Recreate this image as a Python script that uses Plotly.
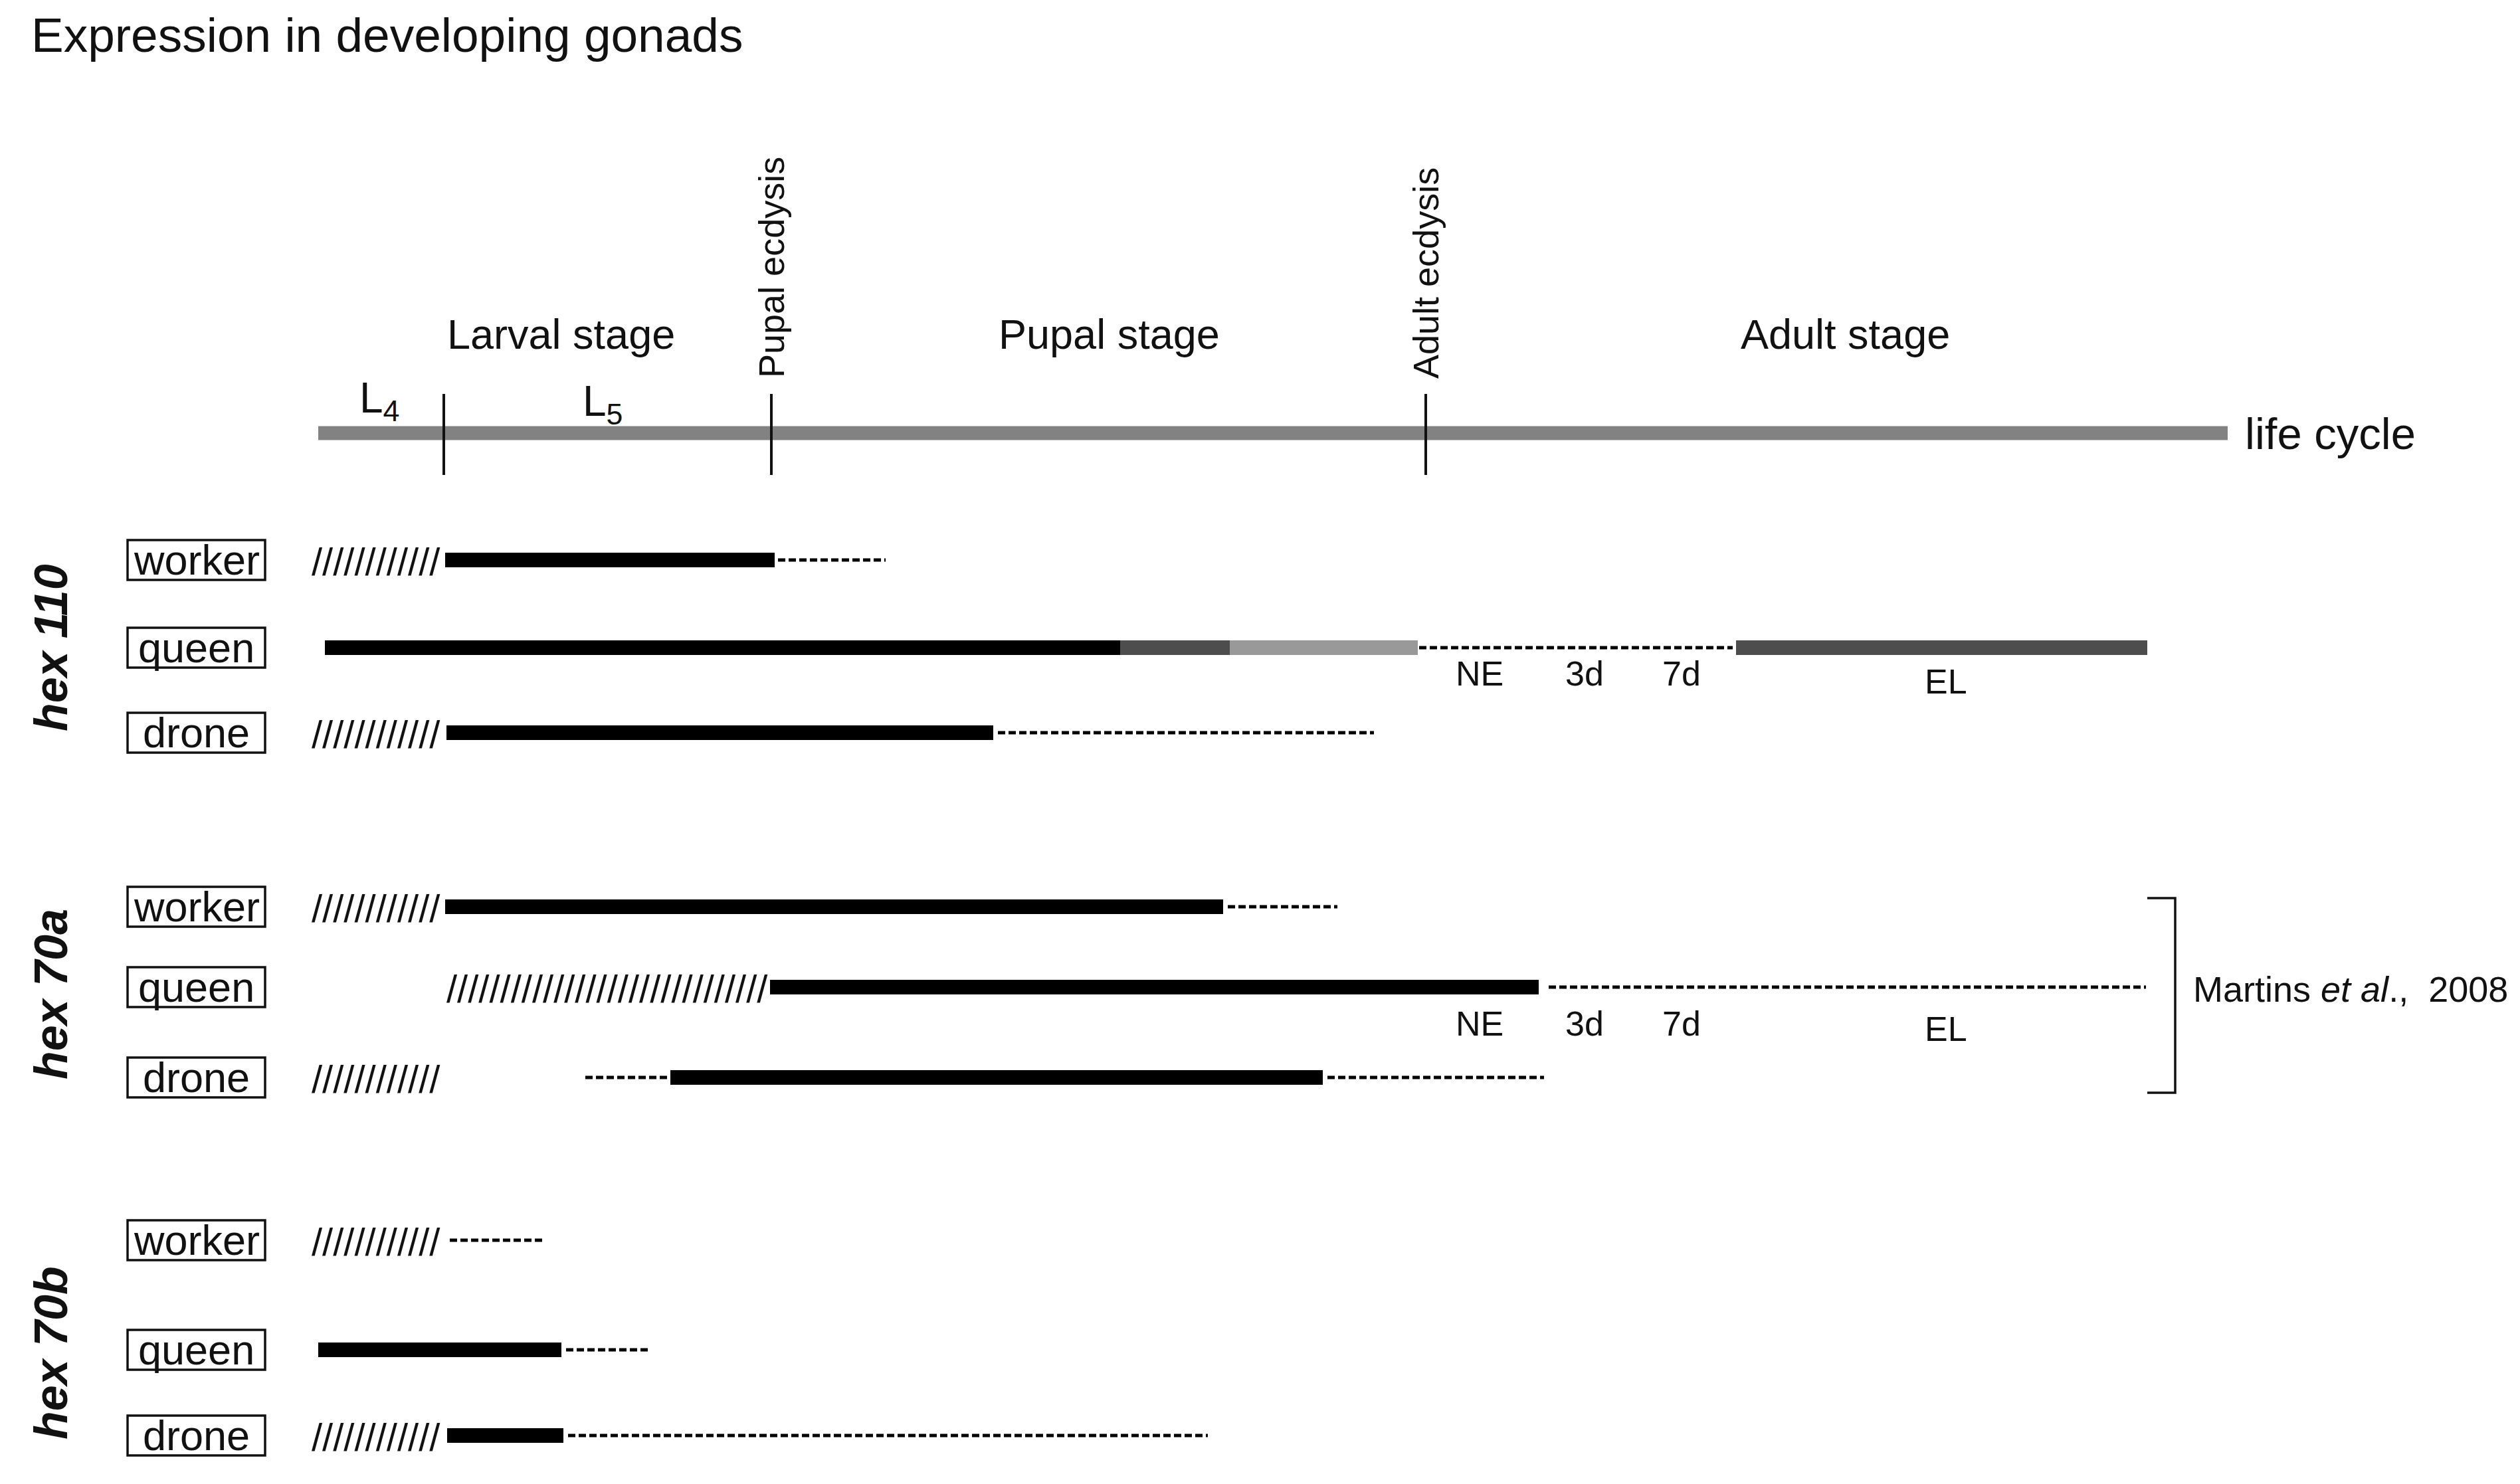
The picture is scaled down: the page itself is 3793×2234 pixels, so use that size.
import plotly.graph_objects as go

# figure size (px); data units below are positions on the drawing canvas
W, H = 3793, 2234
PAGE_MARGIN = 8  # browser body margin, compensated through the axis ranges

# life cycle axis
lifecycle_span = [479, 3353]
lifecycle_y = 652
event_x = [668, 1161, 2146]          # L4/L5 moult, pupal ecdysis, adult ecdysis
event_labels = ["", "Pupal ecdysis", "Adult ecdysis"]
event_label_y = [0, 403, 411]
stage_names = ["Larval stage", "Pupal stage", "Adult stage"]
stage_x = [844, 1669, 2777]
instar_names = ["L<sub>4</sub>", "L<sub>5</sub>"]
instar_x = [571, 907]
instar_y = [603, 608]

# rows
genes = ["hex 110", "hex 70a", "hex 70b"]
gene_y = [975, 1497, 2037]
castes = ["worker", "queen", "drone"]
row_y = {
    "hex 110": [843, 975, 1103],
    "hex 70a": [1365, 1486, 1622],
    "hex 70b": [1867, 2032, 2161],
}

# segments per row: (kind, start, end)
segments = {
    ("hex 110", "worker"): [("hatch", 467, 658), ("solid", 670, 1166), ("dash", 1171, 1333)],
    ("hex 110", "queen"): [("solid", 489, 1686), ("dark", 1686, 1851), ("light", 1851, 2134),
                           ("dash", 2136, 2608), ("dark", 2613, 3232)],
    ("hex 110", "drone"): [("hatch", 467, 658), ("solid", 672, 1495), ("dash", 1502, 2068)],
    ("hex 70a", "worker"): [("hatch", 467, 658), ("solid", 670, 1841), ("dash", 1848, 2013)],
    ("hex 70a", "queen"): [("hatch", 670, 1154), ("solid", 1159, 2316), ("dash", 2331, 3230)],
    ("hex 70a", "drone"): [("hatch", 467, 658), ("dash", 881, 1006), ("solid", 1009, 1991),
                           ("dash", 1998, 2324)],
    ("hex 70b", "worker"): [("hatch", 467, 658), ("dash", 677, 818)],
    ("hex 70b", "queen"): [("solid", 479, 845), ("dash", 852, 976)],
    ("hex 70b", "drone"): [("hatch", 467, 658), ("solid", 673, 848), ("dash", 855, 1818)],
}

# adult sub-stage labels under the queen rows
adult_marks = ["NE", "3d", "7d", "EL"]
adult_marks_x = [2227, 2385, 2531, 2929]
adult_marks_y = {
    "hex 110": [1014, 1014, 1014, 1026],
    "hex 70a": [1541, 1541, 1541, 1549],
}

bracket_x = [3232, 3274]
citation = "Martins <i>et al</i>.,\u00a0 2008"

colors = {"solid": "#000000", "dark": "#4d4d4d", "light": "#999999", "dash": "#000000"}
FONT = "Liberation Sans, Arial, sans-serif"
INK = "#111111"

fig = go.Figure()
annotations = []


def text(x, y, s, size, xanchor="center", yanchor="middle", angle=0, **font):
    annotations.append(dict(x=x, y=y, text=s, showarrow=False, xanchor=xanchor,
                            yanchor=yanchor, textangle=angle,
                            font=dict(family=FONT, size=size, color=INK, **font)))


def seg(x0, x1, y, color, width, dash="solid"):
    fig.add_trace(go.Scatter(x=[x0, x1], y=[y, y], mode="lines", hoverinfo="skip",
                             line=dict(color=color, width=width, dash=dash)))


# title
text(45, 52, "Expression in developing gonads", 73, xanchor="left")

# life cycle bar, event ticks and stage labels
seg(lifecycle_span[0], lifecycle_span[1], lifecycle_y, "#828282", 21)
text(lifecycle_span[1] + 24, lifecycle_y, "life cycle", 67, xanchor="left")
for ex, lab, ly in zip(event_x, event_labels, event_label_y):
    fig.add_trace(go.Scatter(x=[ex, ex], y=[lifecycle_y - 59, lifecycle_y + 63], mode="lines",
                             hoverinfo="skip", line=dict(color=INK, width=4)))
    if lab:
        text(ex, ly, lab, 54, angle=-90)
for name, sx in zip(stage_names, stage_x):
    text(sx, 503, name, 63)
for name, ix, iy in zip(instar_names, instar_x, instar_y):
    text(ix, iy, name, 64)

# gene blocks
for gene, gy in zip(genes, gene_y):
    text(77, gy, gene, 70, angle=-90, weight="bold", style="italic")
    for caste, ry in zip(castes, row_y[gene]):
        fig.add_shape(type="rect", x0=192, x1=399, y0=ry - 30, y1=ry + 30,
                      line=dict(color=INK, width=3.5), fillcolor="white")
        text(295.5, ry, caste, 63)
        for kind, x0, x1 in segments[(gene, caste)]:
            if kind == "hatch":
                n = round((x1 - x0) / 16.2)
                text(x0, ry + 2, "/" * n, 58, xanchor="left")
            elif kind == "dash":
                seg(x0, x1, ry, colors[kind], 5, dash="11px,5px")
            else:
                seg(x0, x1, ry, colors[kind], 22)

# adult sub-stage labels on queen rows
for gene, ys in adult_marks_y.items():
    for lab, mx, my in zip(adult_marks, adult_marks_x, ys):
        text(mx, my, lab, 52)

# bracket + citation for hex 70a
top, bottom = row_y["hex 70a"][0] - 13, row_y["hex 70a"][2] + 23
fig.add_trace(go.Scatter(x=[bracket_x[0], bracket_x[1], bracket_x[1], bracket_x[0]],
                         y=[top, top, bottom, bottom], mode="lines", hoverinfo="skip",
                         line=dict(color=INK, width=3.5)))
text(bracket_x[1] + 25, (top + bottom) / 2 - 10, citation, 54, xanchor="left")

fig.update_layout(
    width=W, height=H, margin=dict(l=0, r=0, t=0, b=0),
    paper_bgcolor="white", plot_bgcolor="white", showlegend=False,
    xaxis=dict(range=[PAGE_MARGIN, W + PAGE_MARGIN], visible=False, fixedrange=True),
    yaxis=dict(range=[H + PAGE_MARGIN, PAGE_MARGIN], visible=False, fixedrange=True),
    annotations=annotations,
)
fig.write_html("out.html")
